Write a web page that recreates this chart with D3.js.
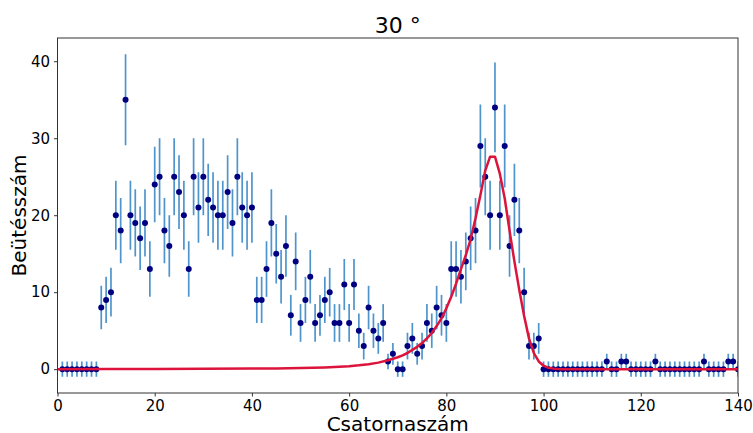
<!DOCTYPE html>
<html>
<head>
<meta charset="utf-8">
<script src="https://cdn.jsdelivr.net/npm/d3@7"></script>
<style>
  body { margin: 0; background: #fff; }
  svg text { font-family: "DejaVu Sans", sans-serif; fill: #000; }
</style>
</head>
<body>
<svg id="spectrum" width="753" height="433"></svg>
<script>
// measured counts per channel (1..140)
const channels = d3.range(1, 141);
const counts = [
  0, 0, 0, 0, 0, 0, 0, 0, 8, 9,
  10, 20, 18, 35, 20, 19, 17, 19, 13, 24,
  25, 18, 16, 25, 23, 20, 13, 25, 21, 25,
  22, 21, 20, 20, 23, 19, 25, 21, 20, 21,
  9, 9, 13, 19, 15, 12, 16, 7, 14, 6,
  9, 12, 6, 7, 9, 10, 6, 6, 11, 6,
  11, 5, 3, 8, 5, 4, 6, 1, 2, 0,
  0, 3, 4, 2, 3, 6, 5, 8, 7, 6,
  13, 13, 12, 14, 17, 18, 29, 25, 20, 34,
  20, 29, 16, 22, 18, 10, 3, 3, 4, 0,
  0, 0, 0, 0, 0, 0, 0, 0, 0, 0,
  0, 0, 1, 0, 0, 1, 1, 0, 0, 0,
  0, 0, 1, 0, 0, 0, 0, 0, 0, 0,
  0, 0, 1, 0, 0, 0, 0, 1, 1, 0
];

// fitted curve
const curveX = [0, 10, 20, 30, 40, 45, 50, 55, 58, 60, 62, 64, 66, 68, 70, 71, 72, 73, 74, 75,
  76, 77, 78, 79, 80, 81, 82, 83, 84, 85, 86, 87, 88, 89, 90, 91, 92, 93, 94, 95,
  96, 97, 98, 99, 100, 101, 102, 103, 104, 140];
const curveY = [0, 0.01, 0.02, 0.04, 0.08, 0.1, 0.15, 0.22, 0.3, 0.38, 0.5, 0.65, 0.85, 1.15, 1.55, 1.8, 2.1, 2.5, 2.9, 3.4,
  4.0, 4.7, 5.6, 6.6, 7.9, 9.4, 11.1, 13.0, 14.8, 16.9, 19.6, 22.6, 25.8, 27.6, 27.6, 25.4, 22.2, 18.0, 14.0, 10.3,
  6.9, 4.0, 2.1, 1.0, 0.45, 0.18, 0.07, 0.02, 0, 0];

const xTicks = [0, 20, 40, 60, 80, 100, 120, 140];
const yTicks = [0, 10, 20, 30, 40];

// poisson error, 1 for empty channels
const errs = counts.map(function(n) { return n > 0 ? Math.sqrt(n) : 1; });

const margin = {top: 38, right: 15, bottom: 40, left: 57.5},
  width = 753 - margin.left - margin.right,
  height = 393 - margin.top;

const svg = d3.select("#spectrum");
const g = svg.append("g").attr("transform", "translate(" + margin.left + "," + margin.top + ")");

const x = d3.scaleLinear().domain([0, 140]).range([0, width]);
const y = d3.scaleLinear().domain([-3.096, 43.02]).range([height, 0]);

g.append("clipPath").attr("id", "clip")
  .append("rect").attr("width", width).attr("height", height);

const plot = g.append("g").attr("clip-path", "url(#clip)");

// error bars
plot.append("g")
  .selectAll("line")
  .data(channels)
  .enter().append("line")
    .attr("x1", function(d) { return x(d); })
    .attr("x2", function(d) { return x(d); })
    .attr("y1", function(d, i) { return y(counts[i] - errs[i]); })
    .attr("y2", function(d, i) { return y(counts[i] + errs[i]); })
    .attr("stroke", "#4f95cc")
    .attr("stroke-width", 1.7);

plot.append("g")
  .selectAll("circle")
  .data(channels)
  .enter().append("circle")
    .attr("cx", function(d) { return x(d); })
    .attr("cy", function(d, i) { return y(counts[i]); })
    .attr("r", 3)
    .attr("fill", "#000080");

const line = d3.line()
  .x(function(d, i) { return x(curveX[i]); })
  .y(function(d) { return y(d); });

plot.append("path")
  .datum(curveY)
  .attr("fill", "none")
  .attr("stroke", "#dc143c")
  .attr("stroke-width", 2.5)
  .attr("stroke-linejoin", "round")
  .attr("d", line);

// axes
const xAxis = g.append("g")
  .attr("transform", "translate(0," + height + ")")
  .call(d3.axisBottom(x).tickValues(xTicks).tickSize(3.5).tickPadding(3.5).tickFormat(d3.format("d")));
const yAxis = g.append("g")
  .call(d3.axisLeft(y).tickValues(yTicks).tickSize(3.5).tickPadding(4).tickFormat(d3.format("d")));

[xAxis, yAxis].forEach(function(a) {
  a.select(".domain").remove();
  a.selectAll("line").attr("stroke", "#333");
  a.selectAll("text").attr("font-size", 15).attr("font-family", "DejaVu Sans").attr("fill", "#000");
});

g.append("rect")
  .attr("width", width)
  .attr("height", height)
  .attr("fill", "none")
  .attr("stroke", "#333")
  .attr("stroke-width", 1);

// labels
svg.append("text")
  .attr("x", margin.left + width / 2)
  .attr("y", 431)
  .attr("text-anchor", "middle")
  .attr("font-size", 20)
  .text("Csatornaszám");

svg.append("text")
  .attr("transform", "translate(25.5," + (margin.top + height / 2) + ") rotate(-90)")
  .attr("text-anchor", "middle")
  .attr("font-size", 20)
  .text("Beütésszám");

const title = svg.append("text")
  .attr("x", margin.left + width / 2)
  .attr("y", 33)
  .attr("text-anchor", "middle")
  .attr("font-size", 22);
title.append("tspan").text("30 ");
title.append("tspan").text("°");
</script>
</body>
</html>
